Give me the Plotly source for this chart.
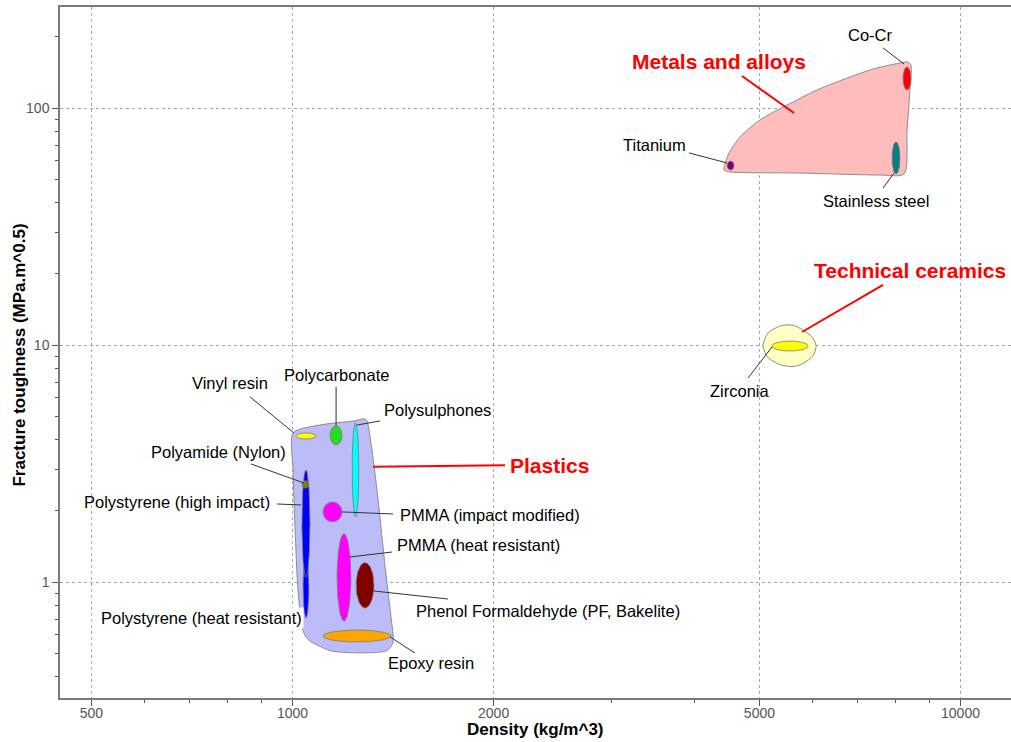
import numpy as np
import plotly.graph_objects as go

# ---------------------------------------------------------------------------
# Material property ranges: density (kg/m^3) and fracture toughness (MPa.m^0.5)
# ---------------------------------------------------------------------------
materials = [
    "Polystyrene (heat resistant)", "Polystyrene (high impact)", "Polyamide (Nylon)",
    "Vinyl resin", "Polycarbonate", "Polysulphones",
    "PMMA (impact modified)", "PMMA (heat resistant)",
    "Phenol Formaldehyde (PF, Bakelite)", "Epoxy resin",
    "Titanium", "Stainless steel", "Co-Cr", "Zirconia",
]
density_min = [1037, 1033, 1033, 1012, 1138, 1228, 1111, 1166, 1245, 1111, 4472, 7898, 8202, 5221]
density_max = [1058, 1062, 1058, 1084, 1186, 1257, 1186, 1223, 1324, 1404, 4581, 8117, 8432, 5911]
toughness_min = [0.707, 1.05, 2.50, 4.02, 3.80, 1.89, 1.80, 0.687, 0.779, 0.560, 54.9, 52.8, 119.5, 9.46]
toughness_max = [1.27, 2.98, 2.68, 4.27, 4.57, 4.70, 2.18, 1.60, 1.21, 0.629, 59.9, 72.1, 149.4, 10.42]
material_colors = ["#0000ff", "#0000ff", "#7f7f00", "#ffff00", "#22dd22", "#00ffff",
                   "#ff00ff", "#ff00ff", "#800000", "#ffa500",
                   "#800080", "#008080", "#ff0000", "#ffff00"]

# Family envelopes (outline vertices, density / toughness)
plastics_density = [1002, 1099, 1232, 1284, 1293, 1315, 1343, 1376, 1404, 1414,
                    1385, 1320, 1207, 1138, 1055, 1037, 1019, 1009, 1002]
plastics_toughness = [4.27, 4.61, 4.79, 4.89, 4.79, 3.62, 2.23, 1.16, 0.714, 0.557,
                      0.515, 0.505, 0.505, 0.515, 0.573, 0.624, 0.928, 1.66, 2.98]
metals_density = [4426, 4487, 4677, 5010, 5500, 6099, 6832, 7396, 7978, 8343,
                  8430, 8401, 8318, 8232, 7577, 5751, 4518]
metals_toughness = [54.9, 63.5, 75.7, 89.3, 103.2, 119.5, 135.5, 146.5, 153.8, 156.8,
                    151.9, 119.5, 81.0, 52.8, 52.3, 53.3, 53.9]
ceramics_density = [5062, 5150, 5367, 5594, 5812, 5996, 6080, 6017, 5812, 5613, 5367, 5150]
ceramics_toughness = [9.93, 11.27, 12.06, 12.18, 11.60, 10.84, 9.97, 9.05, 8.37, 8.13, 8.29, 8.87]

families = ["Plastics", "Metals and alloys", "Technical ceramics"]
family_fill = ["#bcbcf8", "#ffbcbc", "#ffffc4"]

# Axis ticks
x_major = [500, 1000, 2000, 5000, 10000]
x_minor = [600, 700, 800, 900, 3000, 4000, 6000, 7000, 8000, 9000]
y_major = [1, 10, 100]
y_minor = [0.4, 0.5, 0.6, 0.7, 0.8, 0.9, 2, 3, 4, 5, 6, 7, 8, 9,
           20, 30, 40, 50, 60, 70, 80, 90, 200]

# Label placement: text anchor, leader tail and leader head (density, toughness)
material_labels = [
    ("Co-Cr", (7320, 204), (7656, 179.7), (8232, 153.8)),
    ("Titanium", (3488, 70.0), (3923, 64.8), (4472, 58.8)),
    ("Stainless steel", (7473, 40.6), (7656, 46.1), (7951, 53.3)),
    ("Zirconia", (4677, 6.415), (4808, 7.278), (5221, 9.835)),
    ("Vinyl resin", (806, 6.934), (864, 6.05), (1005, 4.266)),
    ("Polycarbonate", (1166, 7.493), (1162, 6.668), (1162, 4.56)),
    ("Polysulphones", (1646, 5.333), (1352, 4.793), (1249, 4.61)),
    ("Polyamide (Nylon)", (776, 3.546), (867, 3.156), (1040, 2.624)),
    ("Polystyrene (high impact)", (672, 2.182), (948, 2.14), (1030, 2.12)),
    ("PMMA (impact modified)", (1976, 1.923), (1414, 1.942), (1186, 1.981)),
    ("PMMA (heat resistant)", (1896, 1.437), (1409, 1.342), (1219, 1.279)),
    ("Phenol Formaldehyde (PF, Bakelite)", (2413, 0.7566), (1709, 0.850), (1324, 0.919)),
    ("Epoxy resin", (1612, 0.4566), (1525, 0.503), (1400, 0.588)),
    ("Polystyrene (heat resistant)", (729.5, 0.7069), None, None),
]
family_labels = [
    ("Plastics", (2429, 3.096), (2080, 3.12), (1320, 3.07)),
    ("Metals and alloys", (4351, 158.3), (4709, 136.9), (5632, 95.5)),
    ("Technical ceramics", (8401, 20.78), (7656, 17.97), (5790, 11.38)),
]

FONT = "Liberation Sans, Arial, sans-serif"


def ellipse(dmin, dmax, kmin, kmax, n=72):
    """Ellipse spanning a property range, drawn in log-log space."""
    lx0, lx1 = np.log10(dmin), np.log10(dmax)
    ly0, ly1 = np.log10(kmin), np.log10(kmax)
    cx, cy = (lx0 + lx1) / 2, (ly0 + ly1) / 2
    rx, ry = (lx1 - lx0) / 2, (ly1 - ly0) / 2
    t = np.linspace(0, 2 * np.pi, n)
    return 10 ** (cx + rx * np.cos(t)), 10 ** (cy + ry * np.sin(t))


fig = go.Figure()

# Family envelopes
for name, xs, ys, fill in zip(
        families,
        [plastics_density, metals_density, ceramics_density],
        [plastics_toughness, metals_toughness, ceramics_toughness],
        family_fill):
    fig.add_trace(go.Scatter(
        x=xs + xs[:1], y=ys + ys[:1], mode="lines", fill="toself",
        fillcolor=fill, line=dict(color="#8c8c8c", width=1, shape="spline", smoothing=0.7),
        name=name, hoverinfo="skip", showlegend=False))

# Material bubbles
for name, d0, d1, k0, k1, col in zip(materials, density_min, density_max,
                                     toughness_min, toughness_max, material_colors):
    ex, ey = ellipse(d0, d1, k0, k1)
    fig.add_trace(go.Scatter(
        x=ex, y=ey, mode="lines", fill="toself", fillcolor=col,
        line=dict(color="#7a7a7a", width=0.8), name=name,
        hoverinfo="name", showlegend=False))


# Leader lines
def leader_xy(labels):
    xs, ys = [], []
    for _, _, tail, head in labels:
        if tail is None:
            continue
        xs += [tail[0], head[0], None]
        ys += [tail[1], head[1], None]
    return xs, ys


lx, ly = leader_xy(material_labels)
fig.add_trace(go.Scatter(x=lx, y=ly, mode="lines", line=dict(color="#333333", width=1),
                         hoverinfo="skip", showlegend=False))
fx, fy = leader_xy(family_labels)
fig.add_trace(go.Scatter(x=fx, y=fy, mode="lines", line=dict(color="#ff0000", width=2),
                         hoverinfo="skip", showlegend=False))

annotations = []
for text, pos, _, _ in material_labels:
    ann = dict(x=np.log10(pos[0]), y=np.log10(pos[1]), xref="x", yref="y", text=text,
               showarrow=False, font=dict(family=FONT, size=16.5, color="#000000"))
    if text == "Polystyrene (heat resistant)":
        ann.update(bgcolor="#ffffff", borderpad=1)
    annotations.append(ann)
for text, pos, _, _ in family_labels:
    annotations.append(dict(x=np.log10(pos[0]), y=np.log10(pos[1]), xref="x", yref="y",
                            text="<b>%s</b>" % text, showarrow=False,
                            font=dict(family=FONT, size=21, color="#ff0000")))

# Axis titles
annotations.append(dict(x=0.5, y=-0.0463, xref="paper", yref="paper",
                        xanchor="center", yanchor="middle", showarrow=False,
                        text="<b>Density (kg/m^3)</b>",
                        font=dict(family=FONT, size=17, color="#000000")))
annotations.append(dict(x=-0.0421, y=0.497, xref="paper", yref="paper",
                        xanchor="center", yanchor="middle", showarrow=False,
                        textangle=-90, text="<b>Fracture toughness (MPa.m^0.5)</b>",
                        font=dict(family=FONT, size=17, color="#000000")))

axis_common = dict(
    type="log", showgrid=True, gridcolor="#a8a8a8", griddash="3px,3px", gridwidth=1,
    showline=True, linecolor="#7a7a7a", linewidth=1.5, zeroline=False,
    ticks="outside", ticklen=6, tickwidth=1, tickcolor="#555555",
    tickfont=dict(family=FONT, size=14, color="#555555"),
    automargin=False,
)

fig.update_layout(
    width=1011, height=742,
    margin=dict(l=60, r=0, t=7, b=44),
    paper_bgcolor="white", plot_bgcolor="white",
    annotations=annotations,
    showlegend=False,
    xaxis=dict(
        axis_common, range=[2.6519, 4.0756], mirror=True,
        tickvals=x_major, ticktext=[str(v) for v in x_major],
        ticklabelstandoff=-5,
        minor=dict(tickvals=x_minor, ticks="outside", ticklen=3, tickcolor="#555555",
                   showgrid=False),
    ),
    yaxis=dict(
        axis_common, range=[-0.4882, 2.4274],
        tickvals=y_major, ticktext=[str(v) for v in y_major],
        minor=dict(tickvals=y_minor, ticks="outside", ticklen=3, tickcolor="#555555",
                   showgrid=False),
    ),
)

fig.write_html("out.html")
